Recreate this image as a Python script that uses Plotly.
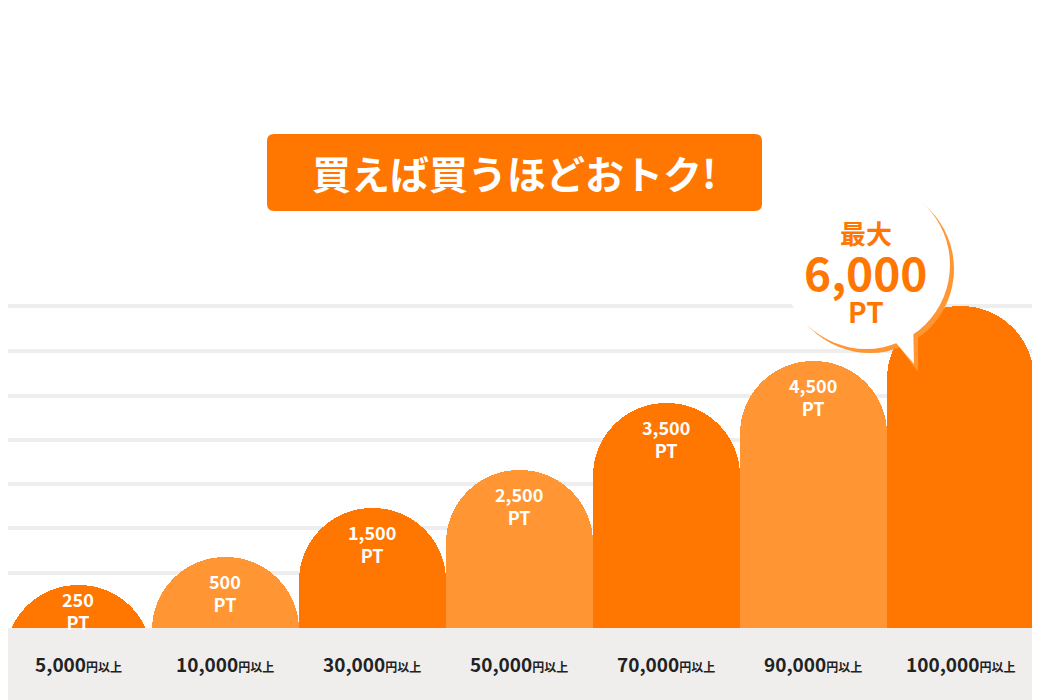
import plotly.graph_objects as go

tiers = ["5,000", "10,000", "30,000", "50,000", "70,000", "90,000", "100,000"]
points = ["250", "500", "1,500", "2,500", "3,500", "4,500", "6,000"]
bar_height = [123, 151, 200, 238, 305, 347, 402]  # visual heights
colors = ["#ff7700", "#ff9533"] * 4

W, H = 1040, 700
OFF = 8  # page body margin
x0_px, step = 78 - OFF, 147
def X(px): return (px - OFF - x0_px) / step
def Y(px): return H - (px - OFF)

fig = go.Figure()
idx = list(range(len(tiers)))
fig.add_trace(go.Bar(x=idx, y=bar_height, marker=dict(color=colors[:7], cornerradius=73, line_width=0),
                     width=1.0, hoverinfo="skip"))

shapes = []
for gy in [306, 351, 396, 440, 484, 528, 573]:
    shapes.append(dict(type="line", xref="x", yref="y", x0=X(5), x1=X(1035), y0=Y(gy), y1=Y(gy),
                       line=dict(color="#eeeeee", width=4), layer="below"))
shapes.append(dict(type="rect", xref="x", yref="y", x0=X(5), x1=X(1040), y0=Y(628), y1=Y(710),
                   fillcolor="#efeeed", line_width=0, layer="above"))
# bubble
cx, cy, r = 866, 265, 84
shapes.append(dict(type="circle", xref="x", yref="y", x0=X(cx-r+4), x1=X(cx+r+4), y0=Y(cy+r+4), y1=Y(cy-r+4),
                   fillcolor="#ff9533", line_width=0, layer="above"))
shapes.append(dict(type="path", xref="x", yref="y", layer="above", fillcolor="#ff9533", line_width=0,
                   path=f"M {X(890)} {Y(335)} L {X(918)} {Y(372)} L {X(918)} {Y(325)} Z"))
shapes.append(dict(type="circle", xref="x", yref="y", x0=X(cx-r), x1=X(cx+r), y0=Y(cy+r), y1=Y(cy-r),
                   fillcolor="white", line_width=0, layer="above"))
shapes.append(dict(type="path", xref="x", yref="y", layer="above", fillcolor="white", line_width=0,
                   path=f"M {X(885)} {Y(330)} L {X(914)} {Y(364)} L {X(913)} {Y(320)} Z"))
# title box
x1, x2, y1, y2, rr = 267, 762, 134, 211, 7
shapes.append(dict(type="path", xref="x", yref="y", layer="above", fillcolor="#ff7700", line_width=0,
                   path=(f"M {X(x1+rr)} {Y(y1)} L {X(x2-rr)} {Y(y1)} Q {X(x2)} {Y(y1)} {X(x2)} {Y(y1+rr)} "
                         f"L {X(x2)} {Y(y2-rr)} Q {X(x2)} {Y(y2)} {X(x2-rr)} {Y(y2)} "
                         f"L {X(x1+rr)} {Y(y2)} Q {X(x1)} {Y(y2)} {X(x1)} {Y(y2-rr)} "
                         f"L {X(x1)} {Y(y1+rr)} Q {X(x1)} {Y(y1)} {X(x1+rr)} {Y(y1)} Z")))

F = "Noto Sans CJK JP"
ann = []
for i, (t, p, h) in enumerate(zip(tiers, points, bar_height)):
    if i < 6:
        ann.append(dict(x=i, y=h - 35 + (10 if i == 0 else 0), xref="x", yref="y", showarrow=False,
                        text=f"<b>{p}<br>PT</b>", font=dict(family=F, size=18, color="white"),
                        align="center", yanchor="middle"))
    ann.append(dict(x=i, y=Y(663), xref="x", yref="y", showarrow=False,
                    text=f"<b>{t}</b><b><span style='font-size:12px'>円以上</span></b>",
                    font=dict(family=F, size=19, color="#222222")))
ann.append(dict(x=X(514), y=Y(172), xref="x", yref="y", showarrow=False, text="<b>買えば買うほどおトク!</b>",
                font=dict(family=F, size=39, color="white")))
ann.append(dict(x=X(866), y=Y(232), xref="x", yref="y", showarrow=False, text="<b>最大</b>",
                font=dict(family=F, size=26, color="#ff7700")))
ann.append(dict(x=X(866), y=Y(271), xref="x", yref="y", showarrow=False, text="<b>6,000</b>",
                font=dict(family=F, size=46, color="#ff7700")))
ann.append(dict(x=X(866), y=Y(311), xref="x", yref="y", showarrow=False, text="<b>PT</b>",
                font=dict(family=F, size=28, color="#ff7700")))

fig.update_layout(width=W, height=H, margin=dict(l=0, r=0, t=0, b=0), paper_bgcolor="white",
                  plot_bgcolor="white", showlegend=False, bargap=0, shapes=shapes, annotations=ann,
                  xaxis=dict(range=[-x0_px / step, (W - x0_px) / step], visible=False, fixedrange=True),
                  yaxis=dict(range=[0, H], visible=False, fixedrange=True))
fig.write_html("out.html")
